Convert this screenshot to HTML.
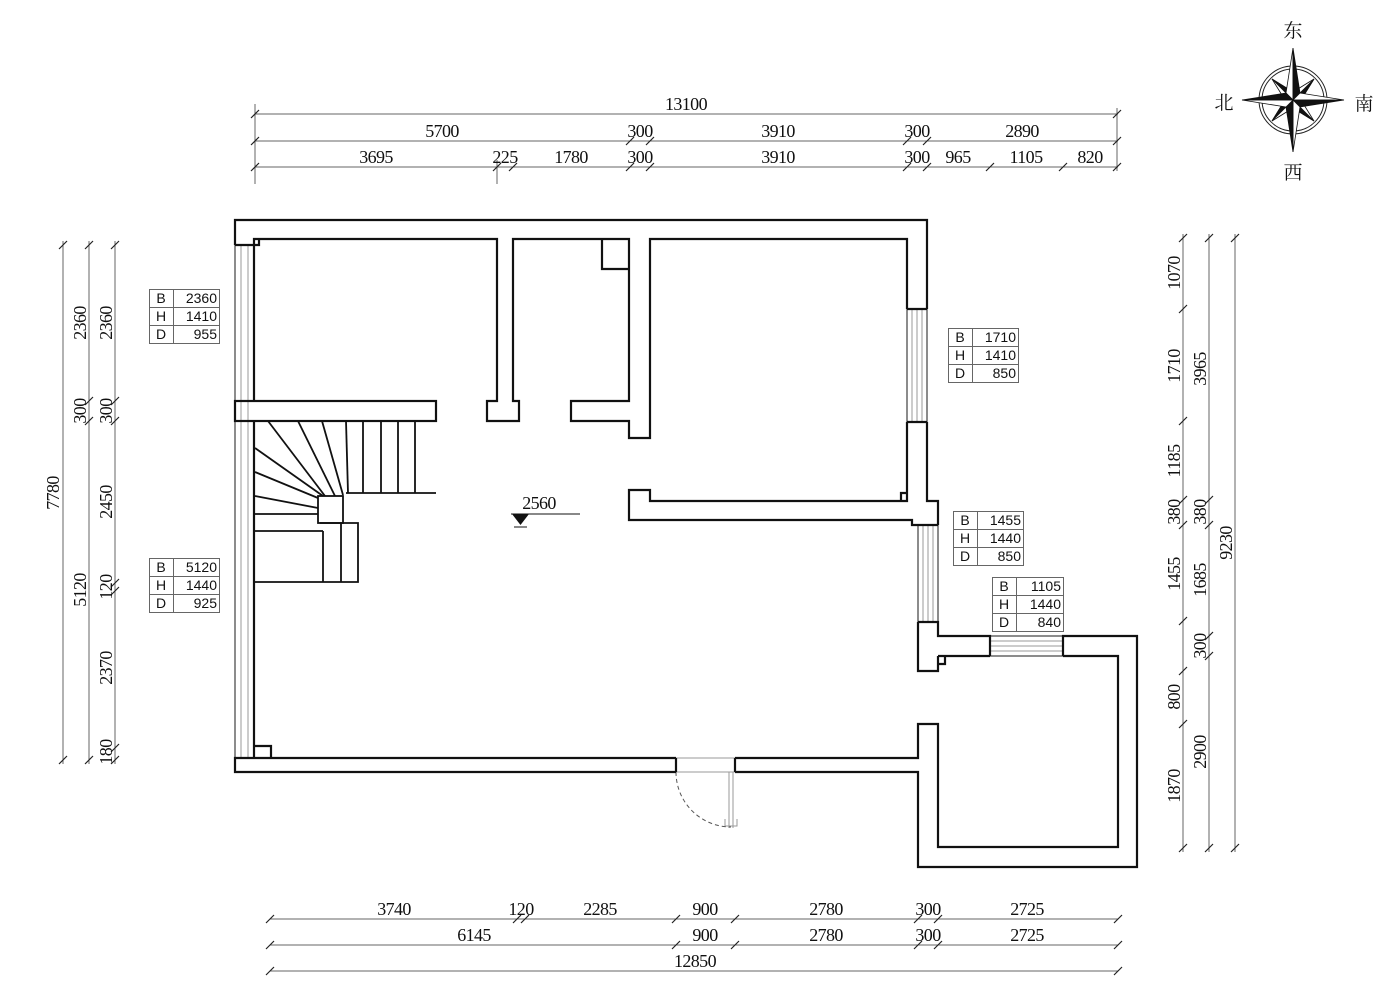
<!DOCTYPE html>
<html><head><meta charset="utf-8"><style>
html,body{margin:0;padding:0;background:#fff;}
svg{display:block;}
.d{font-family:"Liberation Serif","Noto Serif CJK SC",serif;font-size:18px;fill:#111;letter-spacing:-0.6px;}
.t{font-family:"Liberation Sans",sans-serif;font-size:14px;fill:#111;}
.c{font-family:"Liberation Serif","Noto Serif CJK SC",serif;font-size:19px;fill:#111;}
</style></head><body>
<svg width="1381" height="990" viewBox="0 0 1381 990" xmlns="http://www.w3.org/2000/svg">
<rect width="1381" height="990" fill="#fff"/>

<!-- ============ TOP DIMENSIONS ============ -->
<g stroke="#666" stroke-width="1" fill="none">
<line x1="255" y1="114" x2="1118" y2="114"/>
<line x1="255" y1="141" x2="1118" y2="141"/>
<line x1="255" y1="167" x2="1118" y2="167"/>
<line x1="255" y1="104" x2="255" y2="184"/>
<line x1="1117" y1="108" x2="1117" y2="171"/>
<line x1="497" y1="160" x2="497" y2="184"/>
</g>
<g stroke="#222" stroke-width="1.2">
<path d="M251,118 L259,110 M1113,118 L1121,110"/>
<path d="M251,145 L259,137 M626,145 L634,137 M646,145 L654,137 M903,145 L911,137 M923,145 L931,137 M1113,145 L1121,137"/>
<path d="M251,171 L259,163 M493,171 L501,163 M509,171 L517,163 M626,171 L634,163 M646,171 L654,163 M903,171 L911,163 M923,171 L931,163 M986,171 L994,163 M1059,171 L1067,163 M1113,171 L1121,163"/>
</g>
<g class="d" text-anchor="middle">
<text x="686" y="110">13100</text>
<text x="442" y="137">5700</text><text x="640" y="137">300</text><text x="778" y="137">3910</text><text x="917" y="137">300</text><text x="1022" y="137">2890</text>
<text x="376" y="163">3695</text><text x="505" y="163">225</text><text x="571" y="163">1780</text><text x="640" y="163">300</text><text x="778" y="163">3910</text><text x="917" y="163">300</text><text x="958" y="163">965</text><text x="1026" y="163">1105</text><text x="1090" y="163">820</text>
</g>

<!-- ============ BOTTOM DIMENSIONS ============ -->
<g stroke="#666" stroke-width="1" fill="none">
<line x1="270" y1="919" x2="1118" y2="919"/>
<line x1="270" y1="945" x2="1118" y2="945"/>
<line x1="270" y1="971" x2="1118" y2="971"/>
</g>
<g stroke="#222" stroke-width="1.2">
<path d="M266,923 L274,915 M513,923 L521,915 M521,923 L529,915 M672,923 L680,915 M731,923 L739,915 M914,923 L922,915 M934,923 L942,915 M1114,923 L1122,915"/>
<path d="M266,949 L274,941 M672,949 L680,941 M731,949 L739,941 M914,949 L922,941 M934,949 L942,941 M1114,949 L1122,941"/>
<path d="M266,975 L274,967 M1114,975 L1122,967"/>
</g>
<g class="d" text-anchor="middle">
<text x="394" y="915">3740</text><text x="521" y="915">120</text><text x="600" y="915">2285</text><text x="705" y="915">900</text><text x="826" y="915">2780</text><text x="928" y="915">300</text><text x="1027" y="915">2725</text>
<text x="474" y="941">6145</text><text x="705" y="941">900</text><text x="826" y="941">2780</text><text x="928" y="941">300</text><text x="1027" y="941">2725</text>
<text x="695" y="967">12850</text>
</g>

<!-- ============ LEFT DIMENSIONS ============ -->
<g stroke="#666" stroke-width="1" fill="none">
<line x1="63" y1="241" x2="63" y2="764"/>
<line x1="89" y1="241" x2="89" y2="764"/>
<line x1="115" y1="241" x2="115" y2="764"/>
</g>
<g stroke="#222" stroke-width="1.2">
<path d="M59,249 L67,241 M59,764 L67,756"/>
<path d="M85,249 L93,241 M85,405 L93,397 M85,425 L93,417 M85,764 L93,756"/>
<path d="M111,249 L119,241 M111,405 L119,397 M111,425 L119,417 M111,587 L119,579 M111,595 L119,587 M111,752 L119,744 M111,764 L119,756"/>
</g>
<g class="d" text-anchor="middle">
<text transform="translate(59,493) rotate(-90)">7780</text>
<text transform="translate(86,323) rotate(-90)">2360</text>
<text transform="translate(86,411) rotate(-90)">300</text>
<text transform="translate(86,590) rotate(-90)">5120</text>
<text transform="translate(112,323) rotate(-90)">2360</text>
<text transform="translate(112,411) rotate(-90)">300</text>
<text transform="translate(112,502) rotate(-90)">2450</text>
<text transform="translate(112,587) rotate(-90)">120</text>
<text transform="translate(112,668) rotate(-90)">2370</text>
<text transform="translate(112,752) rotate(-90)">180</text>
</g>

<!-- ============ RIGHT DIMENSIONS ============ -->
<g stroke="#666" stroke-width="1" fill="none">
<line x1="1183" y1="234" x2="1183" y2="852"/>
<line x1="1209" y1="234" x2="1209" y2="852"/>
<line x1="1235" y1="234" x2="1235" y2="852"/>
</g>
<g stroke="#222" stroke-width="1.2">
<path d="M1179,242 L1187,234 M1179,313 L1187,305 M1179,425 L1187,417 M1179,504 L1187,496 M1179,529 L1187,521 M1179,625 L1187,617 M1179,675 L1187,667 M1179,728 L1187,720 M1179,852 L1187,844"/>
<path d="M1205,242 L1213,234 M1205,504 L1213,496 M1205,529 L1213,521 M1205,640 L1213,632 M1205,660 L1213,652 M1205,852 L1213,844"/>
<path d="M1231,242 L1239,234 M1231,852 L1239,844"/>
</g>
<g class="d" text-anchor="middle">
<text transform="translate(1180,273) rotate(-90)">1070</text>
<text transform="translate(1180,366) rotate(-90)">1710</text>
<text transform="translate(1180,461) rotate(-90)">1185</text>
<text transform="translate(1180,512) rotate(-90)">380</text>
<text transform="translate(1180,574) rotate(-90)">1455</text>
<text transform="translate(1180,697) rotate(-90)">800</text>
<text transform="translate(1180,786) rotate(-90)">1870</text>
<text transform="translate(1206,369) rotate(-90)">3965</text>
<text transform="translate(1206,512) rotate(-90)">380</text>
<text transform="translate(1206,580) rotate(-90)">1685</text>
<text transform="translate(1206,646) rotate(-90)">300</text>
<text transform="translate(1206,752) rotate(-90)">2900</text>
<text transform="translate(1232,543) rotate(-90)">9230</text>
</g>

<!-- ============ WINDOWS (gray) ============ -->
<g stroke="#999" stroke-width="1" fill="none">
<!-- left wall window -->
<line x1="241" y1="245" x2="241" y2="758"/>
<line x1="248" y1="245" x2="248" y2="758"/>
<!-- right upper window -->
<line x1="912" y1="309" x2="912" y2="422"/>
<line x1="917" y1="309" x2="917" y2="422"/>
<line x1="922" y1="309" x2="922" y2="422"/>
<!-- right mid window -->
<line x1="923" y1="525" x2="923" y2="622"/>
<line x1="928" y1="525" x2="928" y2="622"/>
<line x1="933" y1="525" x2="933" y2="622"/>
<!-- right small window -->
<line x1="990" y1="641" x2="1063" y2="641"/>
<line x1="990" y1="646" x2="1063" y2="646"/>
<line x1="990" y1="651" x2="1063" y2="651"/>
<!-- door threshold -->
<line x1="676" y1="758" x2="735" y2="758"/>
<line x1="676" y1="772" x2="735" y2="772"/>
<!-- door leaf -->
<line x1="729" y1="772" x2="729" y2="828"/>
<line x1="733" y1="772" x2="733" y2="828"/>
<path d="M725,819 V826 H737 V819"/>
</g>
<g stroke="#666" stroke-width="1.5" fill="none">
<line x1="235" y1="245" x2="235" y2="759"/>
<line x1="907" y1="309" x2="907" y2="422"/>
<line x1="927" y1="309" x2="927" y2="422"/>
<line x1="918" y1="525" x2="918" y2="622"/>
<line x1="938" y1="525" x2="938" y2="622"/>
<line x1="990" y1="636" x2="1063" y2="636"/>
<line x1="990" y1="656" x2="1063" y2="656"/>
</g>
<path d="M676,772 A55,55 0 0 0 731,827" stroke="#555" stroke-width="1" stroke-dasharray="4,3" fill="none"/>

<!-- ============ WALLS ============ -->
<g stroke="#111" stroke-width="2.2" fill="none" stroke-linejoin="miter">
<!-- outer top + right upper -->
<path d="M235,245 V220 H927 V309"/>
<path d="M907,309 H927 M907,422 H927"/>
<path d="M927,422 V501 H938 V525"/>
<path d="M918,525 H938"/>
<path d="M918,622 H938 V636 H990 V656 M938,656 H990"/>
<path d="M918,622 V671 H938 V656"/>
<path d="M938,664 H945 V656"/>
<path d="M1063,656 V636 H1137 V867 H918 V772 H735"/>
<path d="M1063,656 H1118 V847 H938 V724 H918 V758 H735"/>
<path d="M735,758 V772 M676,758 V772"/>
<path d="M676,772 H235 V758 H676"/>
<path d="M235,245 H254"/>
<!-- inner top -->
<path d="M254,401 V239 H497 V401 H487 V421 H519 V401 H513 V239 H629 V401 H571 V421 H629 V438 H650 V239 H907 V309"/>
<path d="M254,245 H259 V239"/>
<path d="M602,239 V269 H629"/>
<path d="M907,422 V501 H650 V490 H629 V520 H912 V525 H918"/>
<path d="M901,501 V493 H907"/>
<!-- stair wall -->
<rect x="235" y="401" width="201" height="20"/>
<!-- left inner lower -->
<path d="M254,421 V758"/>
<path d="M255,746 H271 V758"/>
</g>

<!-- ============ STAIRS ============ -->
<g stroke="#111" stroke-width="1.8" fill="none">
<line x1="346" y1="421" x2="348" y2="493"/>
<line x1="363" y1="421" x2="363" y2="493"/>
<line x1="381" y1="421" x2="381" y2="493"/>
<line x1="398" y1="421" x2="398" y2="493"/>
<line x1="415" y1="421" x2="415" y2="493"/>
<line x1="346" y1="493" x2="436" y2="493"/>
<line x1="268" y1="421" x2="325" y2="496"/>
<line x1="298" y1="421" x2="335" y2="496"/>
<line x1="322" y1="421" x2="343" y2="495"/>
<line x1="255" y1="448" x2="323" y2="496"/>
<line x1="255" y1="472" x2="318" y2="498"/>
<line x1="255" y1="496" x2="318" y2="508"/>
<line x1="255" y1="514" x2="318" y2="514"/>
<rect x="318" y="496" width="25" height="27"/>
<line x1="255" y1="531" x2="323" y2="531"/>
<path d="M320,523 H358 V582 H255"/>
<line x1="323" y1="531" x2="323" y2="582"/>
<line x1="341" y1="523" x2="341" y2="582"/>
</g>

<!-- ============ ELEVATION MARK ============ -->
<text class="d" x="539" y="509" text-anchor="middle">2560</text>
<line x1="511" y1="514" x2="580" y2="514" stroke="#111" stroke-width="1"/>
<polygon points="512,514 529,514 520.5,525" fill="#111"/>
<line x1="514" y1="527" x2="527" y2="527" stroke="#111" stroke-width="1"/>

<!-- ============ TABLES ============ -->
<g stroke="#666" stroke-width="1" fill="none">
<rect x="149.5" y="289.5" width="70" height="54"/><path d="M149.5,307.5 H219.5 M149.5,325.5 H219.5 M173.5,289.5 V343.5"/>
<rect x="149.5" y="558.5" width="70" height="54"/><path d="M149.5,576.5 H219.5 M149.5,594.5 H219.5 M173.5,558.5 V612.5"/>
<rect x="948.5" y="328.5" width="70" height="54"/><path d="M948.5,346.5 H1018.5 M948.5,364.5 H1018.5 M972.5,328.5 V382.5"/>
<rect x="953.5" y="511.5" width="70" height="54"/><path d="M953.5,529.5 H1023.5 M953.5,547.5 H1023.5 M977.5,511.5 V565.5"/>
<rect x="992.5" y="577.5" width="71" height="54"/><path d="M992.5,595.5 H1063.5 M992.5,613.5 H1063.5 M1016.5,577.5 V631.5"/>
</g>
<g class="t">
<g text-anchor="middle"><text x="161" y="303">B</text><text x="161" y="321">H</text><text x="161" y="339">D</text></g>
<g text-anchor="end"><text x="217" y="303">2360</text><text x="217" y="321">1410</text><text x="217" y="339">955</text></g>
<g text-anchor="middle"><text x="161" y="572">B</text><text x="161" y="590">H</text><text x="161" y="608">D</text></g>
<g text-anchor="end"><text x="217" y="572">5120</text><text x="217" y="590">1440</text><text x="217" y="608">925</text></g>
<g text-anchor="middle"><text x="960" y="342">B</text><text x="960" y="360">H</text><text x="960" y="378">D</text></g>
<g text-anchor="end"><text x="1016" y="342">1710</text><text x="1016" y="360">1410</text><text x="1016" y="378">850</text></g>
<g text-anchor="middle"><text x="965" y="525">B</text><text x="965" y="543">H</text><text x="965" y="561">D</text></g>
<g text-anchor="end"><text x="1021" y="525">1455</text><text x="1021" y="543">1440</text><text x="1021" y="561">850</text></g>
<g text-anchor="middle"><text x="1004" y="591">B</text><text x="1004" y="609">H</text><text x="1004" y="627">D</text></g>
<g text-anchor="end"><text x="1061" y="591">1105</text><text x="1061" y="609">1440</text><text x="1061" y="627">840</text></g>
</g>

<!-- ============ COMPASS ============ -->
<g>
<circle cx="1293" cy="100" r="34" fill="none" stroke="#222" stroke-width="1"/>
<circle cx="1293" cy="100" r="31" fill="none" stroke="#222" stroke-width="1"/>
<g stroke="#111" stroke-width="0.8" stroke-linejoin="miter">
<polygon points="1314,79 1293,92 1301,100" fill="#fff"/>
<polygon points="1314,79 1293,100 1301,100" fill="#111"/>
<polygon points="1314,121 1301,100 1293,108" fill="#fff"/>
<polygon points="1314,121 1293,100 1293,108" fill="#111"/>
<polygon points="1272,121 1293,108 1285,100" fill="#fff"/>
<polygon points="1272,121 1293,100 1285,100" fill="#111"/>
<polygon points="1272,79 1285,100 1293,92" fill="#fff"/>
<polygon points="1272,79 1293,100 1293,92" fill="#111"/>
<polygon points="1293,48 1286,93 1293,100" fill="#fff"/>
<polygon points="1293,48 1293,100 1300,93" fill="#111"/>
<polygon points="1344,100 1300,93 1293,100" fill="#fff"/>
<polygon points="1344,100 1293,100 1300,107" fill="#111"/>
<polygon points="1293,152 1300,107 1293,100" fill="#fff"/>
<polygon points="1293,152 1293,100 1286,107" fill="#111"/>
<polygon points="1242,100 1286,107 1293,100" fill="#fff"/>
<polygon points="1242,100 1293,100 1286,93" fill="#111"/>
</g>
<g class="c" text-anchor="middle">
<text x="1293" y="37">东</text>
<text x="1224" y="109">北</text>
<text x="1364" y="110">南</text>
<text x="1293" y="179">西</text>
</g>
</g>
</svg>
</body></html>
